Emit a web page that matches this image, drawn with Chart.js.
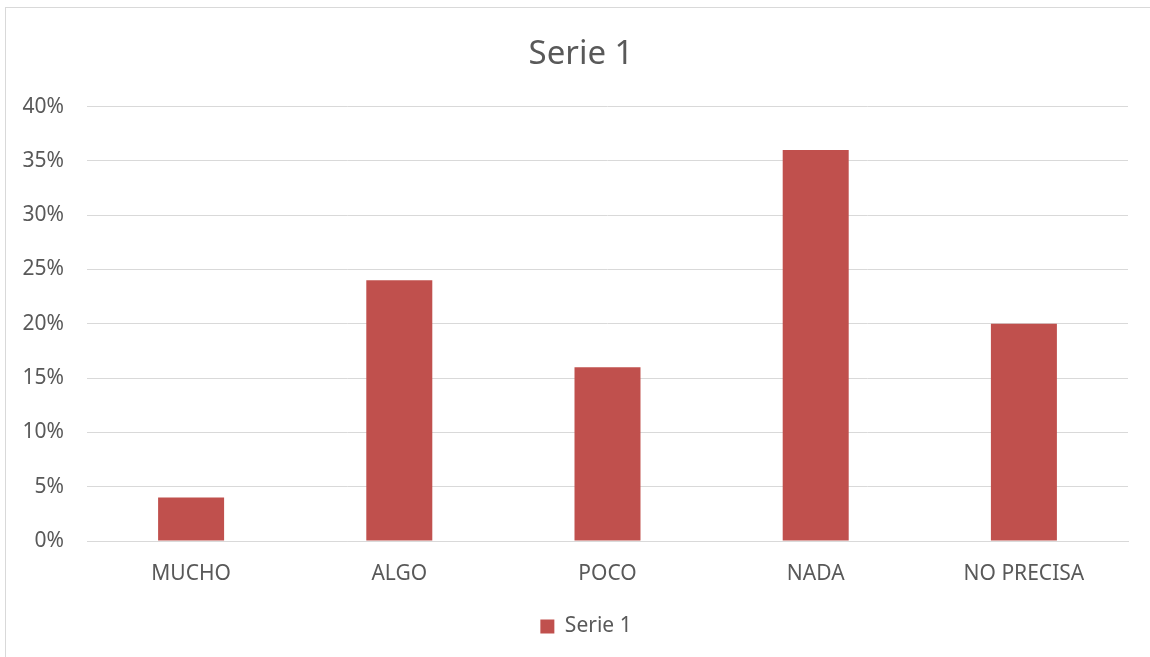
<!DOCTYPE html>
<html>
<head>
<meta charset="utf-8">
<script src="https://cdn.jsdelivr.net/npm/chart.js@4.4.0/dist/chart.umd.min.js"></script>
<style>
  html, body { margin: 0; padding: 0; background: #fff; }
  #wrap { position: relative; width: 1150px; height: 657px; overflow: hidden; }
  #frame { position: absolute; left: 5px; top: 7px; width: 1200px; height: 700px;
           border-left: 1px solid #d9d9d9; border-top: 1px solid #d9d9d9; box-sizing: border-box; }
  canvas { position: absolute; left: 0; top: 0; }
</style>
</head>
<body>
<div id="wrap">
  <div id="frame"></div>
  <canvas id="c" width="1150" height="657"></canvas>
</div>
<script>
const categories = ["MUCHO", "ALGO", "POCO", "NADA", "NO PRECISA"];
const seriesName = "Serie 1";
const values = [4, 24, 16, 36, 20];
const yTicks = [0, 5, 10, 15, 20, 25, 30, 35, 40];

const FONT = "'Noto Sans', 'Open Sans', sans-serif";
const TEXT = "#595959";

// shift the title and legend boxes so they centre like the reference
const shiftBoxes = {
  id: 'shiftBoxes',
  afterLayout(chart) {
    if (chart.titleBlock) chart.titleBlock.left += 34;
    if (chart.legend) chart.legend.left += 44;
  }
};

new Chart(document.getElementById('c'), {
  type: 'bar',
  data: {
    labels: categories,
    datasets: [{
      label: seriesName,
      data: values,
      backgroundColor: '#C0504D',
      borderWidth: 0,
      categoryPercentage: 1,
      barPercentage: 0.317
    }]
  },
  options: {
    responsive: false,
    animation: false,
    devicePixelRatio: 1,
    layout: { padding: { left: 0, right: 22, top: 0, bottom: 10 } },
    plugins: {
      title: {
        display: true,
        text: seriesName,
        color: TEXT,
        font: { family: FONT, size: 33, weight: 'normal', lineHeight: 1.2 },
        padding: { top: 35, bottom: 32 }
      },
      legend: {
        position: 'bottom',
        labels: {
          color: TEXT,
          font: { family: FONT, size: 21 },
          boxWidth: 14,
          boxHeight: 14,
          padding: 20
        }
      },
      tooltip: { enabled: false }
    },
    scales: {
      x: {
        afterFit: (scale) => { scale.height = 55; },
        grid: { display: false, drawTicks: false },
        border: { display: true, color: '#d9d9d9' },
        ticks: { color: TEXT, font: { family: FONT, size: 21 }, padding: 20 }
      },
      y: {
        min: 0, max: 40,
        afterBuildTicks: (scale) => { scale.ticks = yTicks.map(v => ({ value: v })); },
        afterFit: (scale) => { scale.width = 87; },
        grid: { color: '#d9d9d9', lineWidth: 1, drawTicks: false },
        border: { display: false },
        ticks: {
          color: TEXT,
          font: { family: FONT, size: 21 },
          padding: 23,
          callback: (v) => v + '%'
        }
      }
    }
  },
  plugins: [shiftBoxes]
});
</script>
</body>
</html>
